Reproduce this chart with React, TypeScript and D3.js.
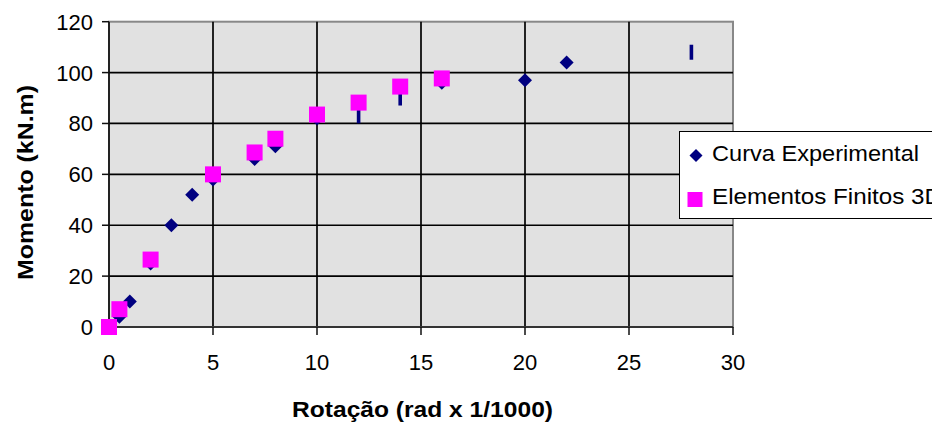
import React from 'react';
import * as d3 from 'd3';

// Curva Experimental (diamonds)
const expRotation = [0, 0.5, 1, 2, 3, 4, 5, 7, 8, 10, 12, 14, 16, 20, 22, 28];
const expMoment = [0, 4, 10, 25, 40, 52, 58, 66, 71, 82, 83, 90, 96, 97, 104, 108];

// Elementos Finitos 3D (squares)
const feRotation = [0, 0.5, 2, 5, 7, 8, 10, 12, 14, 16];
const feMoment = [0, 7, 26.5, 60, 68.6, 74, 83.5, 88.2, 94.5, 97.7];

const xTicks = [0, 5, 10, 15, 20, 25, 30];
const yTicks = [0, 20, 40, 60, 80, 100, 120];

const seriesNames = ['Curva Experimental', 'Elementos Finitos 3D'];

// points the original drew as narrow slivers instead of full diamonds
const thinAt = [12, 14, 28];

const FONT = '"Liberation Sans", Arial, sans-serif';

const App = () => {
  const width = 932;
  const height = 427;
  const plot = { left: 109, right: 733, top: 21.7, bottom: 327 };

  const x = d3.scaleLinear().domain([0, 30]).range([plot.left, plot.right]);
  const y = d3.scaleLinear().domain([0, 120]).range([plot.bottom, plot.top]);

  const diamond = (cx: number, cy: number, hw: number, hh: number) =>
    `M${cx},${cy - hh}L${cx + hw},${cy}L${cx},${cy + hh}L${cx - hw},${cy}Z`;

  const expPts = expRotation.map((r, i) => ({ r, m: expMoment[i] }));
  const fePts = feRotation.map((r, i) => ({ r, m: feMoment[i] }));

  return (
    <svg
      width={width}
      height={height}
      style={{ position: 'absolute', left: 0, top: 0, background: '#fff' }}
      fontFamily={FONT}
    >
      {/* plot background */}
      <rect
        x={plot.left}
        y={plot.top}
        width={plot.right - plot.left}
        height={plot.bottom - plot.top}
        fill="#e1e1e1"
        stroke="#888"
        strokeWidth={2}
      />

      {/* grid */}
      {yTicks.filter(t => t > 0 && t < 120).map(t => (
        <line key={'gy' + t} x1={plot.left} x2={plot.right} y1={y(t)} y2={y(t)} stroke="#000" strokeWidth={1.7} />
      ))}
      {xTicks.filter(t => t > 0 && t < 30).map(t => (
        <line key={'gx' + t} x1={x(t)} x2={x(t)} y1={plot.top} y2={plot.bottom} stroke="#000" strokeWidth={1.7} />
      ))}

      {/* axes */}
      <line x1={plot.left} x2={plot.left} y1={plot.top} y2={plot.bottom} stroke="#111" strokeWidth={1.7} />
      <line x1={plot.left} x2={plot.right} y1={plot.bottom} y2={plot.bottom} stroke="#333" strokeWidth={2.2} />
      {yTicks.map(t => (
        <g key={'yt' + t}>
          <line x1={plot.left - 7} x2={plot.left} y1={y(t)} y2={y(t)} stroke="#111" strokeWidth={1.5} />
          <text x={93} y={y(t)} dy="0.36em" textAnchor="end" fontSize={22} fill="#000">{t}</text>
        </g>
      ))}
      {xTicks.map(t => (
        <g key={'xt' + t}>
          <line x1={x(t)} x2={x(t)} y1={plot.bottom} y2={plot.bottom + 8} stroke="#111" strokeWidth={1.5} />
          <text x={x(t)} y={370} textAnchor="middle" fontSize={22} fill="#000">{t}</text>
        </g>
      ))}

      {/* experimental */}
      {expPts.map((d, i) =>
        thinAt.includes(d.r) ? (
          <rect key={'e' + i} x={x(d.r) - 1.8} y={y(d.m) - 7.5} width={3.6} height={15} fill="#000080" />
        ) : (
          <path key={'e' + i} d={diamond(x(d.r), y(d.m), 7, 7)} fill="#000080" />
        )
      )}

      {/* finite elements */}
      {fePts.map((d, i) => (
        <rect key={'f' + i} x={x(d.r) - 8} y={y(d.m) - 8} width={16} height={16} fill="#ff00ff" />
      ))}

      {/* legend */}
      <rect x={679.5} y={131.5} width={300} height={87} fill="#fff" stroke="#000" strokeWidth={1} />
      <path d={diamond(696, 155.5, 6.5, 6.5)} fill="#000080" />
      <text x={712} y={161} fontSize={22} fill="#000" textLength={207} lengthAdjust="spacingAndGlyphs">
        {seriesNames[0]}
      </text>
      <rect x={687.5} y={192} width={15} height={15} fill="#ff00ff" />
      <text x={712} y={204} fontSize={22} fill="#000" textLength={230} lengthAdjust="spacingAndGlyphs">
        {seriesNames[1]}
      </text>

      {/* axis titles */}
      <text
        x={292}
        y={417}
        fontSize={22}
        fontWeight="bold"
        fill="#000"
        textLength={261}
        lengthAdjust="spacingAndGlyphs"
      >
        Rotação (rad x 1/1000)
      </text>
      <text
        transform={`translate(33,280) rotate(-90)`}
        fontSize={22}
        fontWeight="bold"
        fill="#000"
        textLength={195}
        lengthAdjust="spacingAndGlyphs"
      >
        Momento (kN.m)
      </text>
    </svg>
  );
};

export default App;
